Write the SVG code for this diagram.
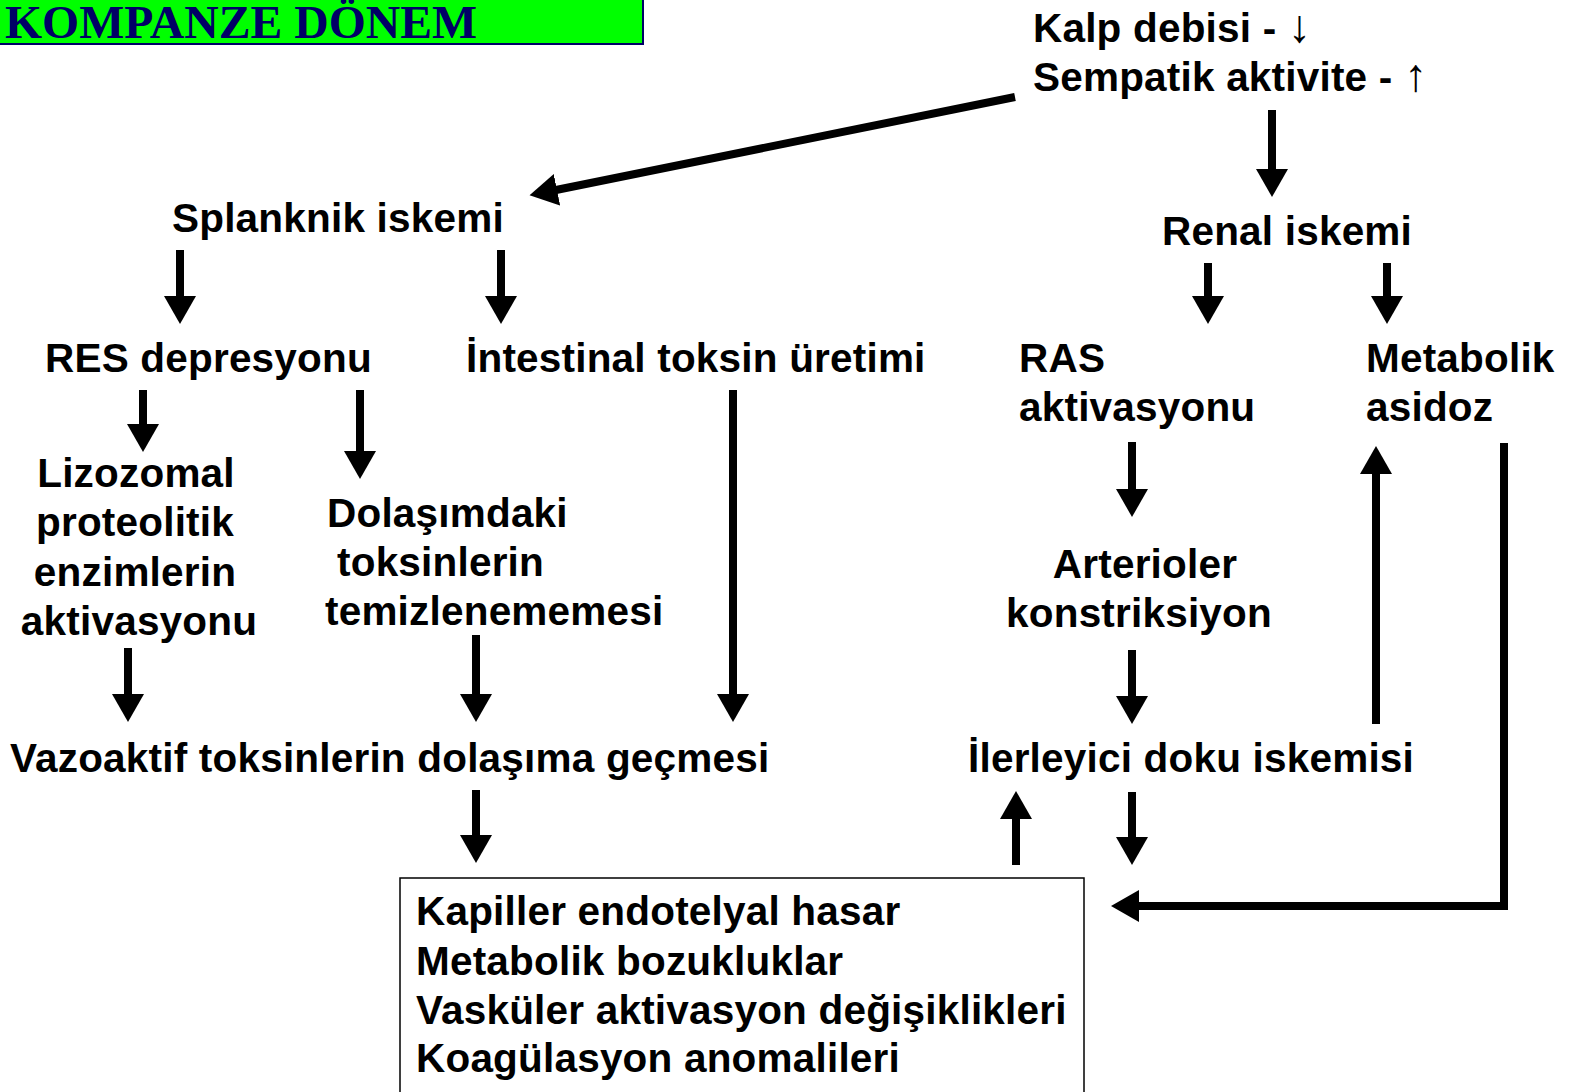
<svg xmlns="http://www.w3.org/2000/svg" width="1572" height="1092" viewBox="0 0 1572 1092">
<defs>
<style>
.t{font-family:"Liberation Sans",Arial,sans-serif;font-weight:bold;font-size:40.5px;letter-spacing:0.2px;fill:#000}
.ar{font-size:46px;font-weight:normal}
.c line,.c polyline{stroke:#000;stroke-width:8;fill:none}
</style>
<marker id="ah" markerUnits="userSpaceOnUse" markerWidth="30" markerHeight="34" viewBox="0 -17 30 34" refX="1" refY="0" orient="auto">
<path d="M0,-16 L28,0 L0,16 z" fill="#000"/>
</marker>
</defs>
<rect width="1572" height="1092" fill="#fff"/>
<g id="title">
<rect x="-2" y="-2" width="645" height="46" fill="#00ff00" stroke="#000066" stroke-width="2"/>
<text x="5" y="38" font-family="'Liberation Serif','Times New Roman',serif" font-weight="bold" font-size="46" fill="#000066" textLength="472" lengthAdjust="spacingAndGlyphs">KOMPANZE DÖNEM</text>
</g>
<g id="kalp"><text class="t" x="1033" y="42">Kalp debisi - <tspan class="ar">↓</tspan></text><text class="t" x="1033" y="91">Sempatik aktivite - <tspan class="ar">↑</tspan></text></g>
<g id="splanknik"><text class="t" x="172" y="232">Splanknik iskemi</text></g>
<g id="renal"><text class="t" x="1162" y="245">Renal iskemi</text></g>
<g id="res"><text class="t" x="45" y="372">RES depresyonu</text></g>
<g id="intestinal"><text class="t" x="466" y="372">İntestinal toksin üretimi</text></g>
<g id="ras"><text class="t" x="1019" y="372">RAS</text><text class="t" x="1019" y="421">aktivasyonu</text></g>
<g id="asidoz"><text class="t" x="1366" y="372">Metabolik</text><text class="t" x="1366" y="421">asidoz</text></g>
<g id="lizozomal" text-anchor="middle"><text class="t" x="136" y="487">Lizozomal</text><text class="t" x="135" y="536">proteolitik</text><text class="t" x="135" y="586">enzimlerin</text><text class="t" x="139" y="635">aktivasyonu</text></g>
<g id="dolasim"><text class="t" x="327" y="527">Dolaşımdaki</text><text class="t" x="337" y="576">toksinlerin</text><text class="t" x="325" y="625">temizlenememesi</text></g>
<g id="arterioler" text-anchor="middle"><text class="t" x="1145" y="578">Arterioler</text><text class="t" x="1139" y="627">konstriksiyon</text></g>
<g id="vazoaktif"><text class="t" x="10" y="772">Vazoaktif toksinlerin dolaşıma geçmesi</text></g>
<g id="ilerleyici"><text class="t" x="968" y="772">İlerleyici doku iskemisi</text></g>
<g id="sonuc">
<rect x="400" y="878" width="684" height="230" fill="#fff" stroke="#000" stroke-width="1.5"/>
<text class="t" x="416" y="925">Kapiller endotelyal hasar</text>
<text class="t" x="416" y="975">Metabolik bozukluklar</text>
<text class="t" x="416" y="1024">Vasküler aktivasyon değişiklikleri</text>
<text class="t" x="416" y="1072">Koagülasyon anomalileri</text>
</g>
<g id="connectors" class="c" marker-end="url(#ah)">
<line x1="1015" y1="97" x2="556" y2="190"/>
<line x1="1272" y1="110" x2="1272" y2="170"/>
<line x1="180" y1="250" x2="180" y2="297"/>
<line x1="501" y1="250" x2="501" y2="297"/>
<line x1="1208" y1="263" x2="1208" y2="297"/>
<line x1="1387" y1="263" x2="1387" y2="297"/>
<line x1="143" y1="390" x2="143" y2="425"/>
<line x1="360" y1="390" x2="360" y2="452"/>
<line x1="733" y1="390" x2="733" y2="695"/>
<line x1="1132" y1="442" x2="1132" y2="490"/>
<line x1="128" y1="648" x2="128" y2="695"/>
<line x1="476" y1="635" x2="476" y2="695"/>
<line x1="1132" y1="650" x2="1132" y2="697"/>
<line x1="1376" y1="724" x2="1376" y2="473"/>
<polyline points="1504,443 1504,906 1138,906"/>
<line x1="476" y1="790" x2="476" y2="836"/>
<line x1="1016" y1="865" x2="1016" y2="818"/>
<line x1="1132" y1="792" x2="1132" y2="838"/>
</g>
</svg>
